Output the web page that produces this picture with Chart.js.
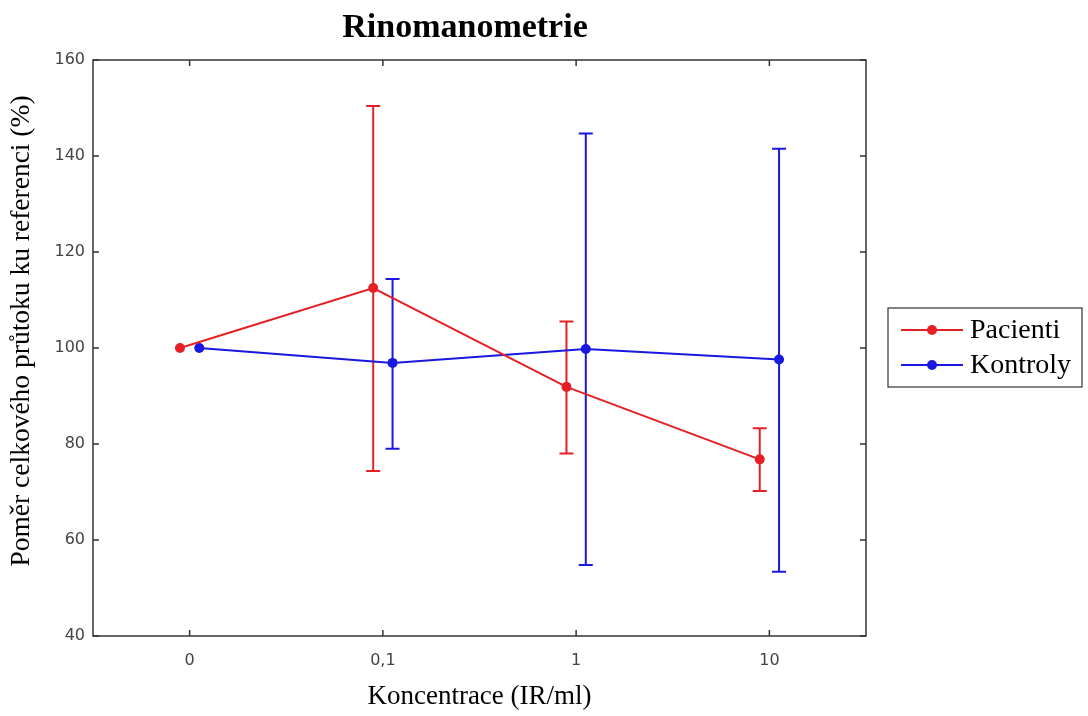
<!DOCTYPE html>
<html>
<head>
<meta charset="utf-8">
<script src="https://cdn.jsdelivr.net/npm/chart.js@4.4.0/dist/chart.umd.min.js"></script>
<style>
  html, body { margin: 0; padding: 0; background: #fff; }
</style>
</head>
<body>
<canvas id="myChart" width="1088" height="716"></canvas>
<script>
// hodnoty
const koncentrace = ['0', '0,1', '1', '10']
const pacienti    = [100, 112.5, 91.9, 76.8]
const pacientiMin = [null, 74.4, 78.0, 70.2]
const pacientiMax = [null, 150.4, 105.5, 83.3]
const kontroly    = [100, 96.9, 99.8, 97.6]
const kontrolyMin = [null, 79.0, 54.8, 53.4]
const kontrolyMax = [null, 114.4, 144.7, 141.5]
const yTicks = [40, 60, 80, 100, 120, 140, 160]

const posun = 0.05   // posunuti skupin vedle sebe
const cervena = 'rgb(228,32,36)'
const modra = 'rgb(24,24,222)'
const serif = '"Liberation Serif", "Times New Roman", serif'

function body(hodnoty, dx) {
    return hodnoty.map((v, i) => ({ x: i + dx, y: v }))
}

const chybove = [
    { min: pacientiMin, max: pacientiMax },
    { min: kontrolyMin, max: kontrolyMax }
]

// chybove usecky
const errorBars = {
    id: 'errorBars',
    beforeDatasetsDraw(chart) {
        const ctx = chart.ctx
        const y = chart.scales.y
        chart.data.datasets.forEach((ds, i) => {
            const meta = chart.getDatasetMeta(i)
            ctx.save()
            ctx.strokeStyle = ds.borderColor
            ctx.lineWidth = 2
            meta.data.forEach((pt, j) => {
                const lo = chybove[i].min[j]
                const hi = chybove[i].max[j]
                if (lo == null || hi == null) return
                const yLo = y.getPixelForValue(lo)
                const yHi = y.getPixelForValue(hi)
                ctx.beginPath()
                ctx.moveTo(pt.x, yLo); ctx.lineTo(pt.x, yHi)
                ctx.moveTo(pt.x - 7, yLo); ctx.lineTo(pt.x + 7, yLo)
                ctx.moveTo(pt.x - 7, yHi); ctx.lineTo(pt.x + 7, yHi)
                ctx.stroke()
            })
            ctx.restore()
        })
    }
}

// ramecek, vnitrni carky, nadpisy a legenda
const decor = {
    id: 'decor',
    afterDraw(chart) {
        const ctx = chart.ctx
        const a = chart.chartArea
        const xs = chart.scales.x
        const ys = chart.scales.y
        ctx.save()
        ctx.strokeStyle = '#333'
        ctx.lineWidth = 1.5
        ctx.strokeRect(a.left, a.top, a.right - a.left, a.bottom - a.top)
        ctx.beginPath()
        koncentrace.forEach((k, i) => {
            const px = xs.getPixelForValue(i)
            ctx.moveTo(px, a.bottom); ctx.lineTo(px, a.bottom - 6)
            ctx.moveTo(px, a.top); ctx.lineTo(px, a.top + 6)
        })
        yTicks.forEach(v => {
            const py = ys.getPixelForValue(v)
            ctx.moveTo(a.left, py); ctx.lineTo(a.left + 6, py)
            ctx.moveTo(a.right, py); ctx.lineTo(a.right - 6, py)
        })
        ctx.stroke()

        // nadpis
        ctx.fillStyle = '#000'
        ctx.font = 'bold 34px ' + serif
        ctx.textAlign = 'center'
        ctx.textBaseline = 'middle'
        ctx.fillText('Rinomanometrie', 465, 28)

        // popis osy y
        ctx.save()
        ctx.translate(22, 331)
        ctx.rotate(-Math.PI / 2)
        ctx.font = '27.5px ' + serif
        ctx.fillText('Poměr celkového průtoku ku referenci (%)', 0, 0)
        ctx.restore()

        // legenda
        const lx = 888, ly = 308
        ctx.fillStyle = '#fff'
        ctx.fillRect(lx, ly, 194, 79)
        ctx.strokeStyle = '#333'
        ctx.lineWidth = 1.2
        ctx.strokeRect(lx, ly, 194, 79)
        chart.data.datasets.forEach((ds, i) => {
            const cy = ly + 22 + i * 35
            ctx.strokeStyle = ds.borderColor
            ctx.lineWidth = 2
            ctx.beginPath()
            ctx.moveTo(lx + 13, cy); ctx.lineTo(lx + 75, cy)
            ctx.stroke()
            ctx.fillStyle = ds.borderColor
            ctx.beginPath()
            ctx.arc(lx + 44, cy, 5, 0, Math.PI * 2)
            ctx.fill()
            ctx.fillStyle = '#000'
            ctx.font = '28px ' + serif
            ctx.textAlign = 'left'
            ctx.fillText(ds.label, lx + 82, cy + 1)
        })
        ctx.restore()
    }
}

const chart = new Chart('myChart', {
    type: 'line',
    data: {
        datasets: [{
            label: 'Pacienti',
            data: body(pacienti, -posun),
            borderColor: cervena,
            backgroundColor: cervena,
            borderWidth: 2,
            pointRadius: 5,
            pointBorderWidth: 0,
            tension: 0
        }, {
            label: 'Kontroly',
            data: body(kontroly, posun),
            borderColor: modra,
            backgroundColor: modra,
            borderWidth: 2,
            pointRadius: 5,
            pointBorderWidth: 0,
            tension: 0
        }]
    },
    options: {
        responsive: false,
        animation: false,
        devicePixelRatio: 1,
        layout: { padding: { left: 0, right: 222, top: 60, bottom: 0 } },
        scales: {
            x: {
                type: 'linear',
                min: -0.5,
                max: 3.5,
                afterBuildTicks: s => { s.ticks = koncentrace.map((k, i) => ({ value: i })) },
                afterFit: s => { s.height = 80 },
                grid: { display: false, drawTicks: false },
                border: { display: false },
                ticks: {
                    padding: 15,
                    color: '#444',
                    font: { family: '"DejaVu Sans", sans-serif', size: 16 },
                    callback: v => koncentrace[v]
                },
                title: {
                    display: true,
                    text: 'Koncentrace (IR/ml)',
                    color: '#000',
                    font: { family: serif, size: 27 },
                    padding: 3
                }
            },
            y: {
                min: 40,
                max: 160,
                afterBuildTicks: s => { s.ticks = yTicks.map(v => ({ value: v })) },
                afterFit: s => { s.width = 93 },
                grid: { display: false, drawTicks: false },
                border: { display: false },
                ticks: {
                    padding: 8,
                    color: '#444',
                    font: { family: '"DejaVu Sans", sans-serif', size: 16 }
                }
            }
        },
        plugins: {
            legend: { display: false },
            tooltip: { enabled: false }
        }
    },
    plugins: [errorBars, decor]
})
</script>
</body>
</html>
